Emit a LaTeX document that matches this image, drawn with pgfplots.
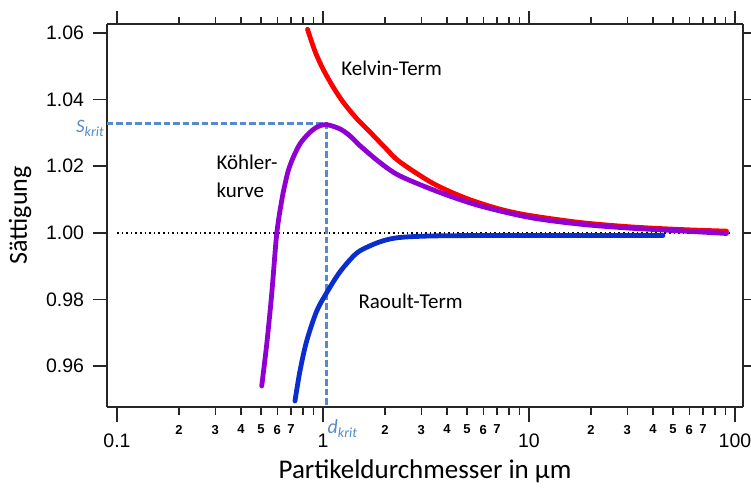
\documentclass[border=0pt]{standalone}
\usepackage{fontspec}
\setmainfont{Liberation Sans}
\newfontfamily\calfont{Carlito}
\usepackage{pgfplots}
\pgfplotsset{compat=1.18}
\definecolor{kred}{RGB}{255,0,0}
\definecolor{kpurple}{RGB}{145,0,210}
\definecolor{kblue}{RGB}{10,45,205}
\definecolor{kdash}{RGB}{85,138,205}
\begin{document}
\begin{tikzpicture}
% top / right axis
\begin{axis}[
  at={(0,0)}, anchor=south west, scale only axis,
  width=636pt, height=383pt,
  xmode=log, xmin=0.0894, xmax=109.4, ymin=0.9477, ymax=1.0627,
  tick align=outside,
  axis line style={-, line width=1.8pt, black!85},
  tick style={line width=1.5pt, black!85},
  xminorticks=false, yminorticks=false,
  xtick={0.1,1,10,100},
  extra x ticks={0.2,0.3,0.4,0.5,0.6,0.7,0.8,0.9,2,3,4,5,6,7,8,9,20,30,40,50,60,70,80,90},
  clip=false,
  axis x line*=top, axis y line*=right,
  major tick length=13pt,
  xticklabels={{},{},{},{}},
  extra x tick labels={{},{},{},{},{},{},{},{},{},{},{},{},{},{},{},{},{},{},{},{},{},{},{},{}},
  ytick=\empty,
  extra y ticks={0.96,0.98,1.00,1.02,1.04,1.06},
  extra y tick labels={{},{},{},{},{},{}},
  extra y tick style={major tick length=8pt},
  extra x tick style={major tick length=7pt},
]
\end{axis}
% main axis
\begin{axis}[
  at={(0,0)}, anchor=south west, scale only axis,
  width=636pt, height=383pt,
  xmode=log, xmin=0.0894, xmax=109.4, ymin=0.9477, ymax=1.0627,
  tick align=outside,
  axis line style={-, line width=1.8pt, black!85},
  tick style={line width=1.5pt, black!85},
  xminorticks=false, yminorticks=false,
  xtick={0.1,1,10,100},
  ytick={0.96,0.98,1.00,1.02,1.04,1.06},
  extra x ticks={0.2,0.3,0.4,0.5,0.6,0.7,0.8,0.9,2,3,4,5,6,7,8,9,20,30,40,50,60,70,80,90},
  clip=false,
  axis x line*=bottom, axis y line*=left,
  major tick length=14.5pt,
  xticklabels={0.1,1,10,100},
  yticklabels={0.96,0.98,1.00,1.02,1.04,1.06},
  tick label style={font=\fontsize{19.5}{19.5}\selectfont},
  yticklabel style={xshift=-5pt},
  xticklabel style={yshift=-9pt},
  extra x tick labels={2,3,4,5,6,7,{},{},2,3,4,5,6,7,{},{},2,3,4,5,6,7,{},{}},
  extra x tick style={major tick length=8pt,
    xticklabel style={yshift=2.5pt, font=\bfseries\fontsize{13}{13}\selectfont}},
]
% dotted line at 1
\addplot[black, line width=1.6pt, dash pattern=on 1.6pt off 3pt] coordinates {(0.1,1.0) (96,1.0)};
% critical dashed lines
\addplot[kdash, line width=2.2pt, dash pattern=on 6.5pt off 3pt] coordinates {(0.0894,1.0328) (1.04,1.0328) (1.04,0.9477)};
% Raoult
\addplot[kblue, line width=4.8pt, smooth, line cap=round] coordinates {
(0.731,0.9495) (0.773,0.9585) (0.833,0.9675) (0.932,0.9765) (1.042,0.9820) (1.187,0.9876)
(1.352,0.9919) (1.512,0.9946) (1.89,0.9973) (2.36,0.9986) (3.70,0.9991) (10,0.9992) (44.7,0.9992)};
% Kelvin
\addplot[kred, line width=4.8pt, smooth, line cap=round] coordinates {
(0.841,1.0611) (0.9145,1.0545) (1.0034,1.0490) (1.122,1.0437) (1.254,1.0392) (1.457,1.0343)
(1.659,1.0308) (2.00,1.0256) (2.36,1.0213) (3.43,1.0148) (4.98,1.0103) (7.23,1.0071)
(10.1,1.0052) (17.7,1.0031) (30.9,1.0018) (54,1.0010) (91,1.0005)};
% Koehler
\addplot[kpurple, line width=4.8pt, smooth, line cap=round] coordinates {
(0.504,0.9540) (0.533,0.9665) (0.5636,0.9816) (0.5959,0.9996) (0.630,1.0096) (0.6486,1.0136)
(0.6785,1.0187) (0.7176,1.0227) (0.7731,1.0267) (0.8485,1.0297) (0.9319,1.0317) (1.034,1.0325)
(1.209,1.0312) (1.352,1.0291) (1.51,1.0262) (1.89,1.0211) (2.36,1.0171) (3.70,1.0121)
(5.78,1.0081) (10.1,1.0046) (17.7,1.0026) (30.9,1.0014) (54,1.0006) (91,0.9998)};
% labels
\node[anchor=west, font=\calfont\fontsize{21}{21}\selectfont] at (axis cs:1.18,1.0493) {Kelvin-Term};
\node[anchor=base west, font=\calfont\fontsize{21}{21}\selectfont] at (axis cs:0.2924,1.01895) {Köhler-};
\node[anchor=base west, font=\calfont\fontsize{21}{21}\selectfont] at (axis cs:0.2924,1.01053) {kurve};
\node[anchor=west, font=\calfont\fontsize{21}{21}\selectfont] at (axis cs:1.43,0.97955) {Raoult-Term};
\node[anchor=base east, inner sep=0pt, text=kdash, xshift=-3pt, yshift=-9pt,
  font=\calfont\itshape\fontsize{19}{19}\selectfont] at (axis cs:0.0894,1.0328)
  {S\raisebox{-4pt}{\fontsize{14}{14}\selectfont krit}};
\node[anchor=base west, inner sep=0pt, text=kdash, xshift=1pt, yshift=-26pt,
  font=\calfont\itshape\fontsize{20}{20}\selectfont] at (axis cs:1.04,0.9477)
  {d\raisebox{-4pt}{\fontsize{14}{14}\selectfont krit}};
\node[yshift=-71pt, anchor=base, inner sep=0pt, font=\calfont\fontsize{27}{27}\selectfont]
  at (axis description cs:0.5,0) {Partikeldurchmesser in µm};
\node[xshift=-80pt, rotate=90, anchor=base, inner sep=0pt, font=\calfont\fontsize{26}{26}\selectfont]
  at (axis description cs:0,0.5) {Sättigung};
\end{axis}
\pgfresetboundingbox
\path[use as bounding box] (-107pt,-80pt) rectangle (644pt,407pt);
\end{tikzpicture}
\end{document}
